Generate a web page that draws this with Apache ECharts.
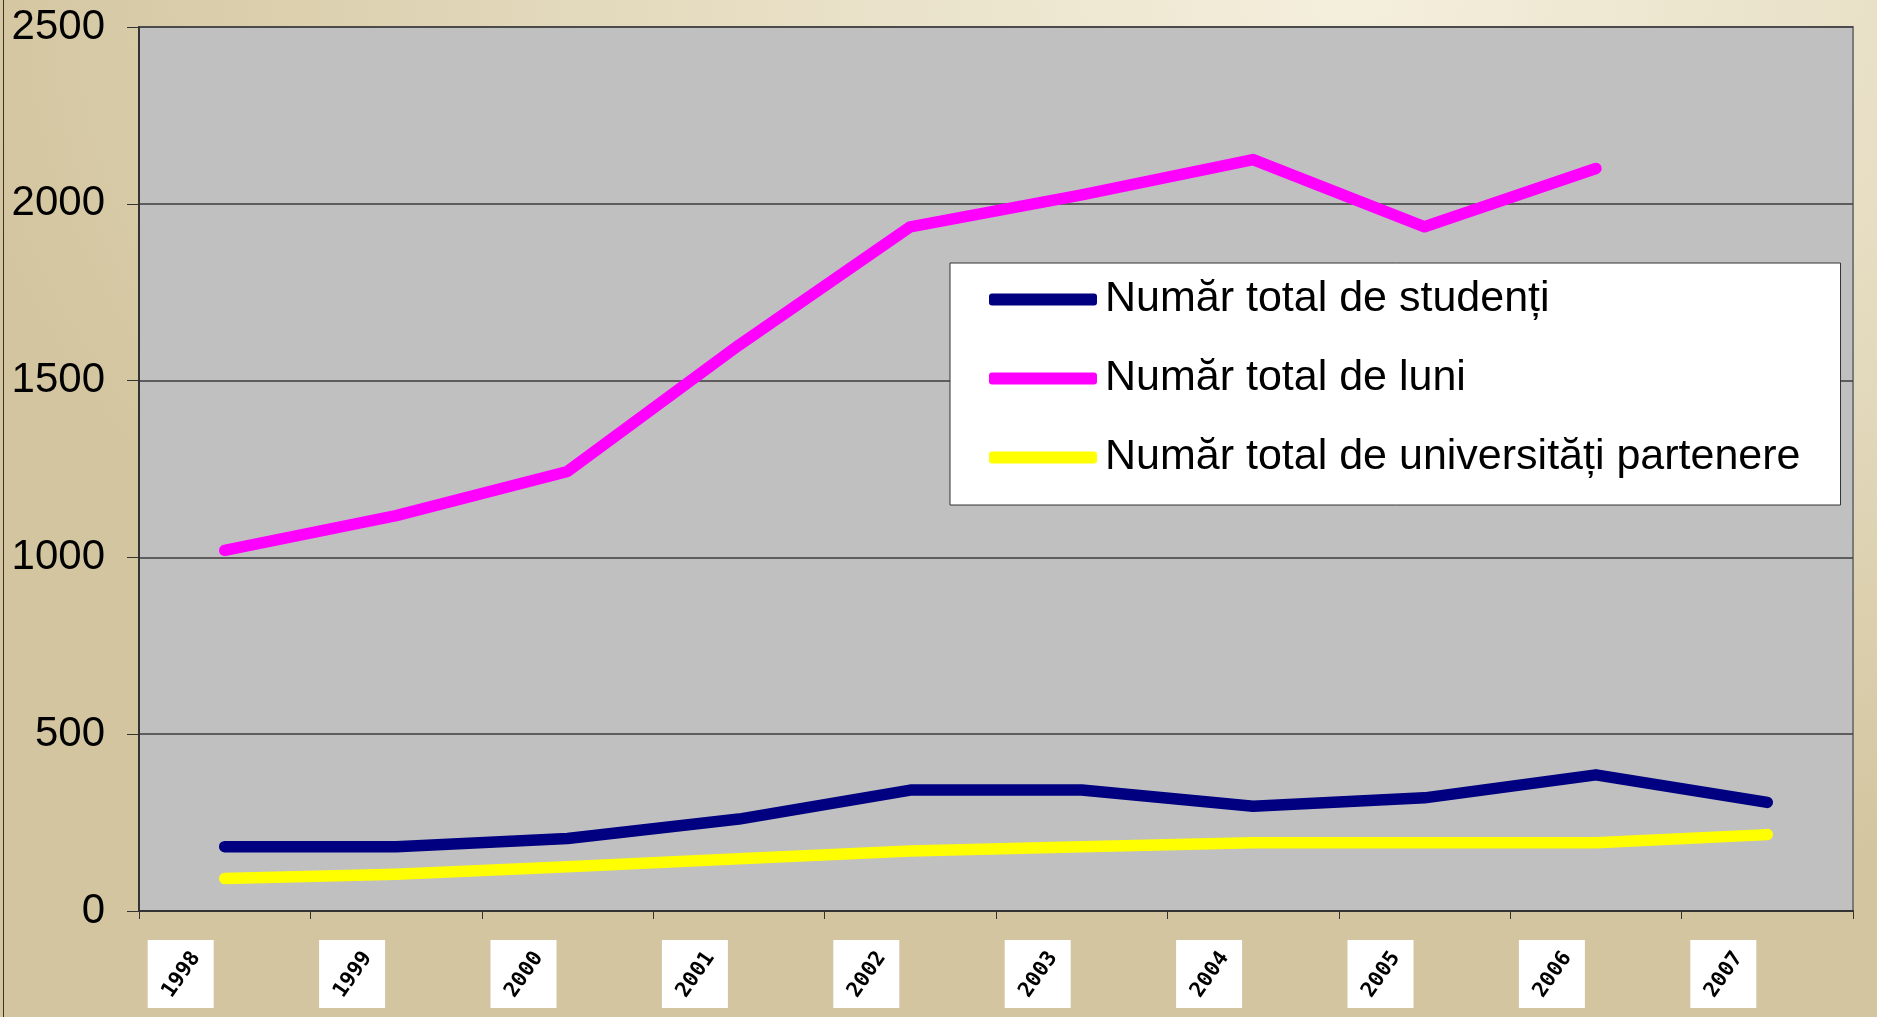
<!DOCTYPE html>
<html><head><meta charset="utf-8">
<script src="https://cdn.jsdelivr.net/npm/echarts@6/dist/echarts.min.js"></script>
<style>
html,body{margin:0;padding:0;width:1877px;height:1017px;overflow:hidden;}
body{background:radial-gradient(ellipse 75% 90% at 72% 0%, #f4efdd 0%, #e6ddc2 45%, #d3c59f 100%);}
#edge{position:absolute;left:3px;top:0;width:0;height:1017px;border-left:1px solid #3a3528;}
#c{position:absolute;left:0;top:0;width:1877px;height:1017px;}
</style></head>
<body><div id="edge"></div><div id="c"></div>
<script>
const years = ['1998','1999','2000','2001','2002','2003','2004','2005','2006','2007'];
const seriesNames = ['Număr total de studenți','Număr total de luni','Număr total de universități partenere'];
const studenti = [182, 182, 205, 260, 342, 342, 296, 320, 385, 307];
const luni = [1020, 1118, 1243, 1600, 1935, 2025, 2125, 1935, 2100, null];
const universitati = [92, 104, 125, 148, 170, 182, 193, 193, 193, 216];
const yTicks = [0, 500, 1000, 1500, 2000, 2500];
const colors = ['#000080', '#ff00ff', '#ffff00'];

const chart = echarts.init(document.getElementById('c'), null, {renderer:'canvas'});
const mkLine = (name, data, color) => ({
  name, type:'line', data, symbol:'none', connectNulls:false,
  lineStyle:{color, width:11.5, cap:'round', join:'round'},
  itemStyle:{color}
});
chart.setOption({
  animation:false,
  grid:{left:139, right:24, top:27, bottom:106, show:true, backgroundColor:'#c0c0c0', borderColor:'#7a7a7a', borderWidth:2},
  legend:{
    orient:'vertical', left:950, top:263,
    backgroundColor:'#ffffff', borderColor:'#333333', borderWidth:1,
    padding:[15, 40, 26, 39], itemGap:36,
    itemWidth:108, itemHeight:12, icon:'roundRect',
    textStyle:{fontFamily:'Liberation Sans, Arial', fontSize:43, color:'#000', padding:[0,0,0,3]},
    data: seriesNames
  },
  xAxis:[{
    type:'category', data:years, boundaryGap:true, position:'bottom',
    axisLine:{show:true, lineStyle:{color:'#333', width:2}},
    axisTick:{show:true, length:8, inside:false, lineStyle:{color:'#333'}},
    axisLabel:{interval:0, margin:29, align:'right', formatter:()=>'{b|}{s|}',
      rich:{b:{backgroundColor:'#ffffff', width:66, height:68}, s:{width:11, height:68}}}
  },{
    type:'category', data:years, boundaryGap:true, position:'bottom',
    axisLine:{show:false}, axisTick:{show:false},
    axisLabel:{interval:0, rotate:55, margin:2,
      formatter:(v)=>'{t|'+v+'}{p|}',
      rich:{t:{fontFamily:'DejaVu Sans Mono, monospace', fontWeight:'bold', fontSize:21, color:'#000'}, p:{width:50}}}
  }],
  yAxis:{
    type:'value', min:yTicks[0], max:yTicks[yTicks.length-1], interval:500,
    axisLine:{show:true, lineStyle:{color:'#333', width:2}},
    axisTick:{show:true, length:12, lineStyle:{color:'#333'}},
    splitLine:{show:true, lineStyle:{color:'#3c3c3c', width:1.5}},
    axisLabel:{fontFamily:'Liberation Sans, Arial', fontSize:42, color:'#000', margin:34, formatter:(v)=>String(v)}
  },
  series:[
    mkLine(seriesNames[0], studenti, colors[0]),
    mkLine(seriesNames[1], luni, colors[1]),
    mkLine(seriesNames[2], universitati, colors[2])
  ]
});
</script></body></html>
